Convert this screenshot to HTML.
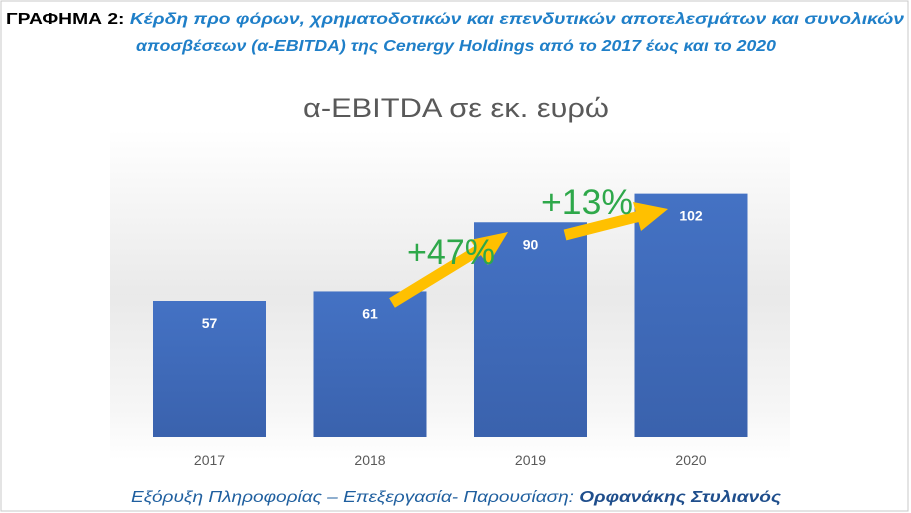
<!DOCTYPE html>
<html><head><meta charset="utf-8"><style>
html,body{margin:0;padding:0;background:#fff;}
svg{display:block;font-family:"Liberation Sans","DejaVu Sans",sans-serif;}
</style></head><body>
<svg id="chart" width="911" height="513" viewBox="0 0 911 513">
<defs>
<linearGradient id="bg" x1="0" y1="0" x2="0" y2="1">
<stop offset="0" stop-color="#fff"/><stop offset="0.5" stop-color="#e4e4e4"/><stop offset="0.85" stop-color="#f4f4f4"/><stop offset="1" stop-color="#fff"/>
</linearGradient>
<linearGradient id="bar" x1="0" y1="0" x2="0" y2="1">
<stop offset="0" stop-color="#4472c4"/><stop offset="1" stop-color="#3a62ad"/>
</linearGradient>
</defs>
<rect x="1" y="1" width="907" height="510" fill="#fff" stroke="#c8c8c8"/>
<rect x="110" y="130" width="680" height="330" fill="url(#bg)" opacity="0.8"/>
<text x="6" y="24" font-size="15.5" font-weight="bold" textLength="898" lengthAdjust="spacingAndGlyphs"><tspan fill="#000">ΓΡΑΦΗΜΑ 2:</tspan><tspan fill="#1f7fc8" font-style="italic"> Κέρδη προ φόρων, χρηματοδοτικών και επενδυτικών αποτελεσμάτων και συνολικών</tspan></text>
<text x="456" y="51" font-size="15.5" font-weight="bold" font-style="italic" fill="#1f7fc8" text-anchor="middle" textLength="640" lengthAdjust="spacingAndGlyphs">αποσβέσεων (α-EBITDA) της Cenergy Holdings από το 2017 έως και το 2020</text>
<text x="456" y="117" font-size="27" fill="#595959" text-anchor="middle" textLength="306" lengthAdjust="spacingAndGlyphs">α-EBITDA σε εκ. ευρώ</text>
<g id="bars"></g>
<g>
<line x1="392" y1="303" x2="482" y2="248" stroke="#ffc000" stroke-width="11"/>
<polygon points="508,232 470,240 488,265" fill="#ffc000"/>
<line x1="565" y1="235" x2="640" y2="216" stroke="#ffc000" stroke-width="11"/>
<polygon points="668,209 633,202 641,231" fill="#ffc000"/>
<text x="407" y="264" font-size="35" fill="#2ea84a" textLength="88" lengthAdjust="spacingAndGlyphs">+47%</text>
<text x="541" y="214" font-size="35" fill="#2ea84a" textLength="92" lengthAdjust="spacingAndGlyphs">+13%</text>
</g>
<text x="456" y="502" font-size="16" font-style="italic" fill="#1f5f9f" text-anchor="middle" textLength="650" lengthAdjust="spacingAndGlyphs">Εξόρυξη Πληροφορίας – Επεξεργασία- Παρουσίαση: <tspan font-weight="bold" fill="#1f4e8c">Ορφανάκης Στυλιανός</tspan></text>
</svg>
<script>
const categories=["2017","2018","2019","2020"];
const values=[57,61,90,102];
const valueLabels=["57","61","90","102"];
const x0=209.5,step=160.5,barW=113,baseY=437,pxPerUnit=2.386;
const xPos=i=>x0+i*step;
const yPos=v=>baseY-v*pxPerUnit;
const g=document.getElementById('bars');
const ns="http://www.w3.org/2000/svg";
categories.forEach((c,i)=>{
 const r=document.createElementNS(ns,'rect');
 r.setAttribute('x',xPos(i)-barW/2);r.setAttribute('y',yPos(values[i]));
 r.setAttribute('width',barW);r.setAttribute('height',baseY-yPos(values[i]));
 r.setAttribute('fill','url(#bar)');
 
 
 g.appendChild(r);
 const t=document.createElementNS(ns,'text');
 t.setAttribute('x',xPos(i));t.setAttribute('y',yPos(values[i])+27);
 t.setAttribute('text-anchor','middle');t.setAttribute('font-size','14');
 t.setAttribute('font-weight','bold');t.setAttribute('fill','#fff');
 t.textContent=valueLabels[i];
 
 
 g.appendChild(t);
 const a=document.createElementNS(ns,'text');
 a.setAttribute('x',xPos(i));a.setAttribute('y',465);
 a.setAttribute('text-anchor','middle');a.setAttribute('font-size','14');
 a.setAttribute('fill','#595959');
 a.textContent=c;
 
 
 g.appendChild(a);
});
</script>
</body></html>
